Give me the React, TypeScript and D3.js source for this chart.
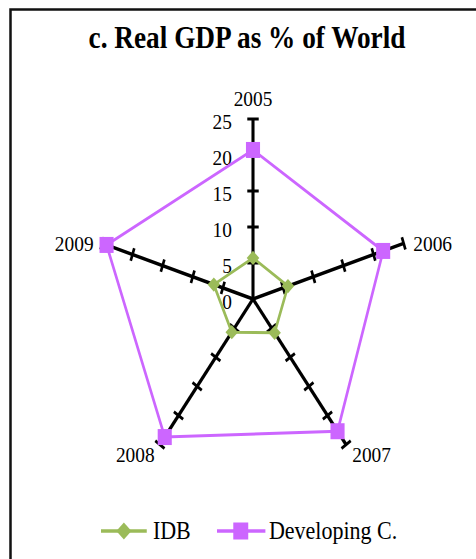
import React from 'react';
import * as d3 from 'd3';

// years around the radar, clockwise from the top
const years = ['2005', '2006', '2007', '2008', '2009'];
const idb = [5.7, 5.8, 5.8, 5.7, 6.5];
const developing = [20.7, 21.6, 22.7, 23.7, 24.3];
const ticks = [0, 5, 10, 15, 20, 25];

const W = 476;
const H = 559;
const cx = 253;
const cy = 299;
const squeeze = 0.88; // picture is narrower than it is tall
const font = '"Liberation Serif", "Times New Roman", serif';
const green = '#9BBB59';
const purple = '#CC66FF';

export default function App() {
  const r = d3.scaleLinear().domain([0, 25]).range([0, 180]);
  const angle = d3.scaleLinear().domain([0, years.length]).range([0, 2 * Math.PI]);

  const radial = d3
    .lineRadial<number>()
    .angle((_, i) => angle(i))
    .radius((v) => r(v))
    .curve(d3.curveLinearClosed);

  const pt = (i: number, v: number) => {
    const a = angle(i);
    return [r(v) * Math.sin(a), -r(v) * Math.cos(a)];
  };

  const diamond = d3.symbol(d3.symbolDiamond2, 130)();

  return (
    <svg width={W} height={H} style={{ position: 'absolute', left: 0, top: 0 }}>
      <rect x={0} y={0} width={W} height={H} fill="#fff" />
      <rect x={10.5} y={9.5} width={W + 20} height={H + 20} fill="none" stroke="#111" strokeWidth={2.5} />

      <g transform={`translate(247,48) scale(${squeeze},1)`}>
        <text textAnchor="middle" fontFamily={font} fontWeight="bold" fontSize={31}>
          c. Real GDP as % of World
        </text>
      </g>

      <g transform={`translate(${cx},${cy}) scale(${squeeze},1)`}>
        {years.map((y, i) => {
          const a = angle(i);
          const [ex, ey] = pt(i, 25);
          const ux = Math.sin(a);
          const uy = -Math.cos(a);
          return (
            <g key={y}>
              <line x1={0} y1={0} x2={ex} y2={ey} stroke="#000" strokeWidth={3.5} />
              {ticks.slice(1).map((t) => {
                const [tx, ty] = pt(i, t);
                return (
                  <line
                    key={t}
                    x1={tx - uy * 6.5}
                    y1={ty + ux * 6.5}
                    x2={tx + uy * 6.5}
                    y2={ty - ux * 6.5}
                    stroke="#000"
                    strokeWidth={3}
                  />
                );
              })}
            </g>
          );
        })}

        {ticks.map((t) => (
          <text
            key={t}
            x={-24}
            y={-r(t) + 10}
            textAnchor="end"
            fontFamily={font}
            fontSize={22}
            fill="#000"
          >
            {t}
          </text>
        ))}

        {years.map((y, i) => {
          const a = angle(i);
          const [ex, ey] = pt(i, 25);
          const s = Math.sin(a);
          const c = Math.cos(a);
          const anchor = Math.abs(s) < 0.1 ? 'middle' : s > 0 ? 'start' : 'end';
          const dx = Math.abs(s) < 0.1 ? 0 : s > 0 ? (c > 0 ? 11 : 7) : c > 0 ? -10 : -6;
          const dy = c > 0.5 ? -13 : c > 0 ? 8 : 17;
          return (
            <text key={y} x={ex + dx} y={ey + dy} textAnchor={anchor} fontFamily={font} fontSize={22}>
              {y}
            </text>
          );
        })}

        <path d={radial(developing) || ''} fill="none" stroke={purple} strokeWidth={3} />
        {developing.map((v, i) => {
          const [x, y] = pt(i, v);
          return <rect key={i} x={x - 8} y={y - 8} width={16} height={16} fill={purple} />;
        })}

        <path d={radial(idb) || ''} fill="none" stroke={green} strokeWidth={3} />
        {idb.map((v, i) => {
          const [x, y] = pt(i, v);
          return <path key={i} d={diamond || ''} transform={`translate(${x},${y})`} fill={green} />;
        })}
      </g>

      <g transform={`translate(101,531) scale(${squeeze},1)`}>
        <line x1={0} y1={0} x2={52} y2={0} stroke={green} strokeWidth={3.5} />
        <path d={diamond || ''} transform="translate(26,0) scale(1.2)" fill={green} />
        <text x={59} y={8} fontFamily={font} fontSize={25}>
          IDB
        </text>
      </g>
      <g transform={`translate(217,531) scale(${squeeze},1)`}>
        <line x1={0} y1={0} x2={55} y2={0} stroke={purple} strokeWidth={3.5} />
        <rect x={18.5} y={-8.5} width={17} height={17} fill={purple} />
        <text x={59} y={8} fontFamily={font} fontSize={25}>
          Developing C.
        </text>
      </g>
    </svg>
  );
}
